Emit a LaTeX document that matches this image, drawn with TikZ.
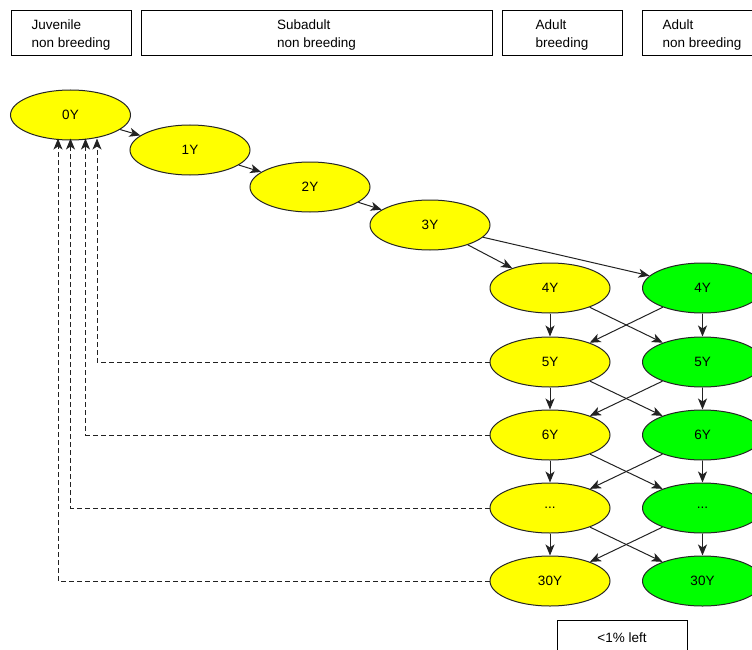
\documentclass[tikz,border=0pt]{standalone}
\usepackage{fontspec}
\setmainfont{Liberation Sans}
\usetikzlibrary{shapes.geometric,arrows.meta,calc}
\definecolor{ylw}{HTML}{FFFF00}
\definecolor{grn}{HTML}{00FF00}
\definecolor{edge}{HTML}{222222}
\tikzset{
  hdr/.style={draw=black, line width=1pt, minimum height=45pt, inner sep=0pt},
  hdrtext/.style={align=left, inner sep=0pt, font=\fontsize{13.5}{18}\selectfont},
  age/.style={ellipse, draw=black!85, line width=1pt, minimum width=120pt, minimum height=50pt, inner sep=0pt, font=\fontsize{13.5}{15}\selectfont},
  yage/.style={age, fill=ylw},
  gage/.style={age, fill=grn},
  arr/.style={draw=edge, line width=1pt, -{Stealth[length=11pt,width=9pt,inset=3pt]}},
  darr/.style={arr, dashed, dash pattern=on 5pt off 3pt}
}
\begin{document}
\begin{tikzpicture}[x=1pt,y=-1pt]
\useasboundingbox (0,0) rectangle (752,650);
% headers
\node[hdr, minimum width=120pt, label={[hdrtext,yshift=-1.5pt]center:Juvenile\\non breeding}] (hj) at (71,33.5) {};
\node[hdr, minimum width=351pt, label={[hdrtext,yshift=-1.5pt]center:Subadult\\non breeding}] (hs) at (316.5,33.5) {};
\node[hdr, minimum width=120pt, label={[hdrtext,yshift=-1.5pt]center:Adult\\breeding}] (hab) at (562,33.5) {};
\node[hdr, minimum width=120pt, label={[hdrtext,yshift=-1.5pt]center:Adult\\non breeding}] (han) at (702,33.5) {};
% chain
\node[yage] (n0) at (70.5,115) {0Y};
\node[yage] (n1) at (190,150) {1Y};
\node[yage] (n2) at (310,187) {2Y};
\node[yage] (n3) at (430,225) {3Y};
% columns
\node[yage] (y4) at (550,288) {4Y};
\node[yage] (y5) at (550,362) {5Y};
\node[yage] (y6) at (550,435) {6Y};
\node[yage] (yd) at (550,508) {...};
\node[yage] (y30) at (550,581) {30Y};
\node[gage] (g4) at (702.5,288) {4Y};
\node[gage] (g5) at (702.5,362) {5Y};
\node[gage] (g6) at (702.5,435) {6Y};
\node[gage] (gd) at (702.5,508) {...};
\node[gage] (g30) at (702.5,581) {30Y};
% bottom box
\node[draw=black, line width=1pt, minimum width=130pt, minimum height=60pt, anchor=north, inner sep=0pt] (lb) at (622,620) {};
\node[font=\fontsize{13.5}{15}\selectfont] (lt) at (622,637.5) {<1\% left};
% arrows
\draw[arr] (n0) -- (n1);
\draw[arr] (n1) -- (n2);
\draw[arr] (n2) -- (n3);
\draw[arr] (n3) -- (y4);
\draw[arr] (n3) -- (g4);
\foreach \a/\b in {4/5,5/6,6/d,d/30}{
  \draw[arr] (y\a) -- (y\b);
  \draw[arr] (g\a) -- (g\b);
  \draw[arr] (y\a) -- (g\b);
  \draw[arr] (g\a) -- (y\b);
}
% return arrows
\draw[darr] (y5.west) -| ([xshift=26.5pt,yshift=2pt]n0.south);
\draw[darr] (y6.west) -| ([xshift=15pt,yshift=2pt]n0.south);
\draw[darr] (yd.west) -| ([xshift=0pt,yshift=2pt]n0.south);
\draw[darr] (y30.west) -| ([xshift=-12.5pt,yshift=2pt]n0.south);
\end{tikzpicture}
\end{document}
